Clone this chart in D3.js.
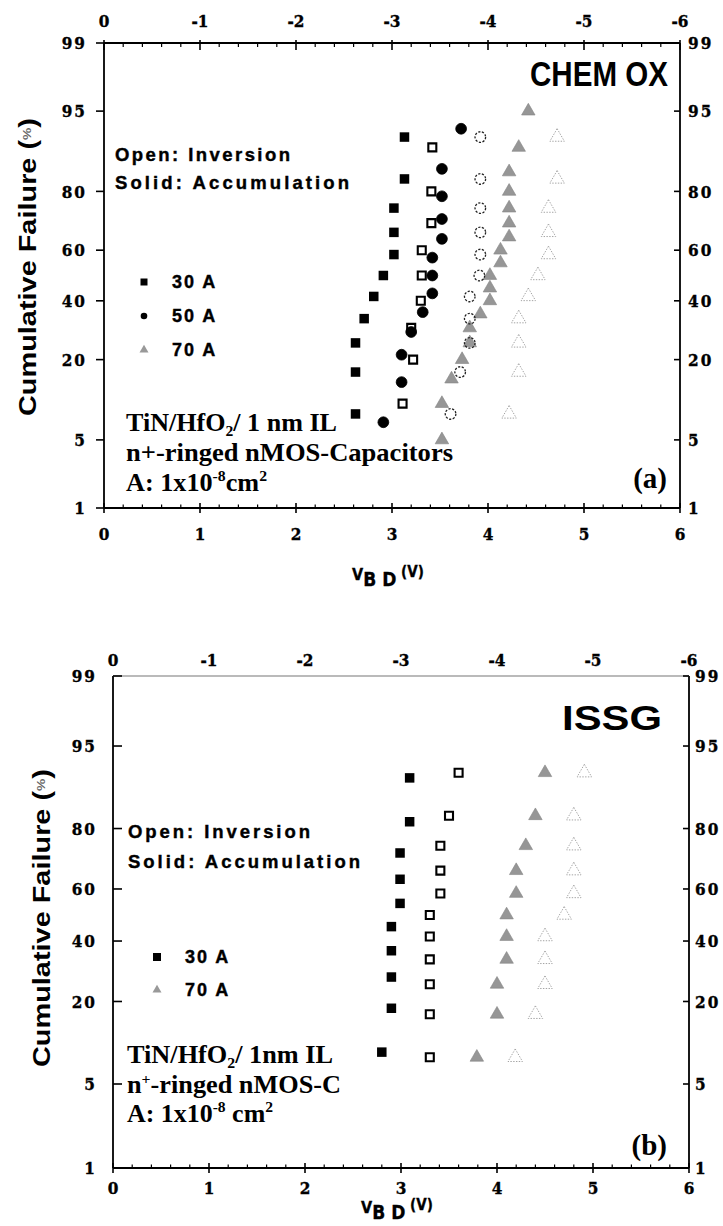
<!DOCTYPE html>
<html>
<head>
<meta charset="utf-8">
<script src="https://cdn.jsdelivr.net/npm/d3@7"></script>
<style>
  html, body { margin: 0; padding: 0; background: #fff; }
  svg { display: block; }
</style>
</head>
<body>
<svg id="fig" width="723" height="1226"></svg>
<script>
// ---- axis values ----
const voltTicks = [0, 1, 2, 3, 4, 5, 6];
const voltMinor = [0.2,0.4,0.6,0.8,1.2,1.4,1.6,1.8,2.2,2.4,2.6,2.8,3.2,3.4,3.6,3.8,4.2,4.4,4.6,4.8,5.2,5.4,5.6,5.8];
const gateVoltLabels = ["0", "-1", "-2", "-3", "-4", "-5", "-6"];
const failTicks = [1, 5, 20, 40, 60, 80, 95, 99];

// ---- CHEM OX breakdown data (V_BD in V, cumulative failure in %) ----
const chem30AccV = [2.62, 2.62, 2.62, 2.71, 2.81, 2.91, 3.02, 3.02, 3.02, 3.13, 3.13];
const chem30AccF = [8.3, 16.7, 25, 33.3, 41.7, 50, 58.3, 66.7, 75, 83.3, 91.7];
const chem30InvV = [3.11, 3.22, 3.20, 3.30, 3.31, 3.31, 3.41, 3.41, 3.42];
const chem30InvF = [10, 20, 30, 40, 50, 60, 70, 80, 90];
const chem50AccV = [2.91, 3.10, 3.10, 3.20, 3.32, 3.42, 3.42, 3.42, 3.52, 3.52, 3.52, 3.52, 3.72];
const chem50AccF = [7.1, 14.3, 21.4, 28.6, 35.7, 42.9, 50, 57.1, 64.3, 71.4, 78.6, 85.7, 92.9];
const chem50InvV = [3.61, 3.71, 3.81, 3.81, 3.81, 3.91, 3.92, 3.92, 3.92, 3.92, 3.92];
const chem50InvF = [8.3, 16.7, 25, 33.3, 41.7, 50, 58.3, 66.7, 75, 83.3, 91.7];
const chem70AccV = [3.52, 3.52, 3.62, 3.73, 3.81, 3.81, 3.92, 4.02, 4.02, 4.02, 4.13, 4.13, 4.22, 4.22, 4.22, 4.22, 4.22, 4.32, 4.42];
const chem70AccF = [5, 10, 15, 20, 25, 30, 35, 40, 45, 50, 55, 60, 65, 70, 75, 80, 85, 90, 95];
const chem70InvV = [4.22, 4.32, 4.32, 4.32, 4.42, 4.52, 4.63, 4.63, 4.63, 4.72, 4.72];
const chem70InvF = [8.3, 16.7, 25, 33.3, 41.7, 50, 58.3, 66.7, 75, 83.3, 91.7];

// ---- ISSG breakdown data ----
const issg30AccV = [2.80, 2.90, 2.90, 2.90, 2.90, 2.99, 2.99, 2.99, 3.09, 3.09];
const issg30AccF = [9.1, 18.2, 27.3, 36.4, 45.5, 54.5, 63.6, 72.7, 81.8, 90.9];
const issg30InvV = [3.30, 3.30, 3.30, 3.30, 3.30, 3.30, 3.41, 3.41, 3.41, 3.50, 3.60];
const issg30InvF = [8.3, 16.7, 25, 33.3, 41.7, 50, 58.3, 66.7, 75, 83.3, 91.7];
const issg70AccV = [3.79, 4.00, 4.00, 4.10, 4.10, 4.10, 4.20, 4.20, 4.30, 4.40, 4.50];
const issg70AccF = [8.3, 16.7, 25, 33.3, 41.7, 50, 58.3, 66.7, 75, 83.3, 91.7];
const issg70InvV = [4.19, 4.40, 4.50, 4.50, 4.50, 4.70, 4.80, 4.80, 4.80, 4.80, 4.91];
const issg70InvF = [8.3, 16.7, 25, 33.3, 41.7, 50, 58.3, 66.7, 75, 83.3, 91.7];

// inverse standard normal CDF (Acklam) for the probability axis
function probit(p) {
  const a = [-3.969683028665376e+01, 2.209460984245205e+02, -2.759285104469687e+02, 1.383577518672690e+02, -3.066479806614716e+01, 2.506628277459239e+00];
  const b = [-5.447609879822406e+01, 1.615858368580409e+02, -1.556989798598866e+02, 6.680131188771972e+01, -1.328068155288572e+01];
  const c = [-7.784894002430293e-03, -3.223964580411365e-01, -2.400758277161838e+00, -2.549732539343734e+00, 4.374664141464968e+00, 2.938163982698783e+00];
  const d = [7.784695709041462e-03, 3.224671290700398e-01, 2.445134137142996e+00, 3.754408661907416e+00];
  const pl = 0.02425, ph = 1 - pl;
  let q, r;
  if (p < pl) {
    q = Math.sqrt(-2 * Math.log(p));
    return (((((c[0]*q+c[1])*q+c[2])*q+c[3])*q+c[4])*q+c[5]) / ((((d[0]*q+d[1])*q+d[2])*q+d[3])*q+1);
  }
  if (p <= ph) {
    q = p - 0.5; r = q * q;
    return (((((a[0]*r+a[1])*r+a[2])*r+a[3])*r+a[4])*r+a[5])*q / (((((b[0]*r+b[1])*r+b[2])*r+b[3])*r+b[4])*r+1);
  }
  q = Math.sqrt(-2 * Math.log(1 - p));
  return -(((((c[0]*q+c[1])*q+c[2])*q+c[3])*q+c[4])*q+c[5]) / ((((d[0]*q+d[1])*q+d[2])*q+d[3])*q+1);
}

const zip = (xs, ys) => xs.map((v, i) => ({ v: v, f: ys[i] }));

const SANS = "'Liberation Sans', Arial, sans-serif";
const SERIF = "'Liberation Serif', 'Times New Roman', serif";
const NUM = "'DejaVu Serif Condensed', 'Liberation Serif', serif";
const COND = "'DejaVu Sans Condensed', 'Liberation Sans Narrow', 'Liberation Sans', sans-serif";

const svg = d3.select("#fig");

const sym = {
  square: s => d3.symbol().type(d3.symbolSquare).size(s * s)(),
  circle: r => d3.symbol().type(d3.symbolCircle).size(Math.PI * r * r)(),
  tri: s => d3.symbol().type(d3.symbolTriangle).size(Math.sqrt(3) / 4 * s * s)()
};

const styles = {
  solidSquare: { path: sym.square(9.5), fill: "#000", stroke: "none" },
  openSquare: { path: sym.square(8), fill: "none", stroke: "#000", sw: 2.1 },
  solidCircle: { path: sym.circle(5.4), fill: "#000", stroke: "#000", sw: 0.8 },
  openCircle: { path: sym.circle(5.3), fill: "none", stroke: "#222", sw: 1.3, dash: "2.2 1.5" },
  solidTri: { path: sym.tri(13.5), fill: "#969696", stroke: "#858585", sw: 0.6 },
  openTri: { path: sym.tri(14.5), fill: "none", stroke: "#a4a4a4", sw: 1, dash: "1.4 1.4" }
};

// numeric tick label helper
function numLabel(sel) {
  return sel.attr("font-family", NUM).attr("font-weight", "bold").attr("font-size", 17)
    .attr("stroke", "#000").attr("stroke-width", 0.35);
}

function drawPanel(cfg) {
  const g = svg.append("g");
  const x = d3.scaleLinear().domain([0, 6]).range([cfg.left, cfg.right]);
  // probability axis: linear in probit space between the anchor percentages
  const yLin = d3.scaleLinear().domain(cfg.probAnchors.map(p => probit(p / 100))).range(cfg.probRange);
  const y = pct => yLin(probit(pct / 100));
  const top = y(99), bottom = y(1);

  // frame
  g.append("line").attr("x1", cfg.left).attr("x2", cfg.right).attr("y1", bottom).attr("y2", bottom)
    .attr("stroke", "#000").attr("stroke-width", 1.8);
  g.append("line").attr("x1", cfg.left).attr("x2", cfg.left).attr("y1", top).attr("y2", bottom)
    .attr("stroke", "#000").attr("stroke-width", 1.8);
  g.append("line").attr("x1", cfg.right).attr("x2", cfg.right).attr("y1", top).attr("y2", bottom)
    .attr("stroke", "#000").attr("stroke-width", 1.8);
  g.append("line").attr("x1", cfg.left).attr("x2", cfg.right).attr("y1", top).attr("y2", top)
    .attr("stroke", cfg.topColor).attr("stroke-width", cfg.topWidth);

  // bottom axis ticks
  g.append("g").selectAll("line").data(voltTicks).join("line")
    .attr("x1", d => x(d)).attr("x2", d => x(d))
    .attr("y1", bottom - 5).attr("y2", bottom + 5)
    .attr("stroke", "#000").attr("stroke-width", 1.6);
  g.append("g").selectAll("line").data(voltMinor).join("line")
    .attr("x1", d => x(d)).attr("x2", d => x(d))
    .attr("y1", bottom - 3.5).attr("y2", bottom)
    .attr("stroke", "#000").attr("stroke-width", 1.2);
  numLabel(g.append("g").selectAll("text").data(voltTicks).join("text")
    .attr("x", d => x(d)).attr("y", cfg.bottomLabelY).attr("text-anchor", "middle"))
    .text(d => d);

  // top axis (gate-voltage labels)
  if (cfg.topTicks) {
    g.append("g").selectAll("line").data(voltTicks).join("line")
      .attr("x1", d => x(d)).attr("x2", d => x(d))
      .attr("y1", top - 3).attr("y2", top + 7)
      .attr("stroke", "#000").attr("stroke-width", 1.6);
    g.append("g").selectAll("line").data(voltMinor).join("line")
      .attr("x1", d => x(d)).attr("x2", d => x(d))
      .attr("y1", top).attr("y2", top + 4)
      .attr("stroke", "#000").attr("stroke-width", 1.2);
  }
  numLabel(g.append("g").selectAll("text").data(voltTicks).join("text")
    .attr("x", d => x(d)).attr("y", cfg.topLabelY).attr("text-anchor", "middle"))
    .text((d, i) => gateVoltLabels[i]);

  // left / right probability axes
  g.append("g").selectAll("line").data(failTicks).join("line")
    .attr("x1", cfg.left).attr("x2", cfg.left + cfg.leftTick)
    .attr("y1", d => y(d)).attr("y2", d => y(d))
    .attr("stroke", "#000").attr("stroke-width", 1.6);
  g.append("g").selectAll("line").data(failTicks).join("line")
    .attr("x1", cfg.right).attr("x2", cfg.right - 6)
    .attr("y1", d => y(d)).attr("y2", d => y(d))
    .attr("stroke", "#000").attr("stroke-width", 1.6);
  numLabel(g.append("g").selectAll("text").data(failTicks).join("text")
    .attr("x", cfg.leftLabelX).attr("y", d => y(d)).attr("dy", "0.36em")
    .attr("text-anchor", "end").attr("letter-spacing", 2))
    .text(d => d);
  numLabel(g.append("g").selectAll("text").data(failTicks).join("text")
    .attr("x", cfg.rightLabelX).attr("y", d => y(d)).attr("dy", "0.36em")
    .attr("text-anchor", "start").attr("letter-spacing", 2))
    .text(d => d);

  // axis titles
  const xt = g.append("text").attr("x", (cfg.left + cfg.right) / 2 - 4).attr("y", cfg.xTitleY)
    .attr("text-anchor", "middle").attr("font-family", COND).attr("font-weight", "bold")
    .attr("stroke", "#000").attr("stroke-width", 0.3);
  xt.append("tspan").attr("font-size", 16).text("V");
  xt.append("tspan").attr("font-size", 19).attr("dy", 6).text("B D");
  xt.append("tspan").attr("font-size", 15).attr("dy", -9).text(" (V)");

  const yt = g.append("text")
    .attr("transform", `translate(${cfg.yTitleX},${cfg.yTitleY}) rotate(-90)`)
    .attr("text-anchor", "middle").attr("font-family", SANS).attr("font-weight", "bold")
    .attr("font-size", 23).attr("textLength", cfg.yTitleLen).attr("lengthAdjust", "spacingAndGlyphs");
  yt.append("tspan").text("Cumulative Failure (");
  yt.append("tspan").attr("font-size", 11).attr("dy", -5).attr("fill", "#666").text("%");
  yt.append("tspan").attr("dy", 5).text(")");

  // series
  cfg.series.forEach(s => {
    const st = styles[s.style];
    g.append("g").selectAll("path").data(s.data).join("path")
      .attr("transform", d => `translate(${x(d.v)},${y(d.f)})`)
      .attr("d", st.path)
      .attr("fill", st.fill).attr("stroke", st.stroke)
      .attr("stroke-width", st.sw || 0)
      .attr("stroke-dasharray", st.dash || null);
  });

  // title
  g.append("text").attr("x", cfg.titleX).attr("y", cfg.titleY).attr("text-anchor", "end")
    .attr("font-family", SANS).attr("font-weight", "bold").attr("font-size", 35)
    .attr("textLength", cfg.titleLen).attr("lengthAdjust", "spacingAndGlyphs")
    .text(cfg.title);

  // notes
  ["Open: Inversion", "Solid: Accumulation"].forEach((t, i) => {
    g.append("text").attr("x", cfg.noteX).attr("y", cfg.noteY[i])
      .attr("font-family", SANS).attr("font-weight", "bold").attr("font-size", 18.5)
      .attr("stroke", "#000").attr("stroke-width", 0.4)
      .attr("textLength", cfg.noteLen[i]).attr("lengthAdjust", "spacing").text(t);
  });

  // legend
  cfg.legend.forEach((l, i) => {
    const ly = cfg.legendY + i * cfg.legendStep;
    const st = l.style;
    g.append("path").attr("transform", `translate(${cfg.legendX},${ly})`)
      .attr("d", st.path).attr("fill", st.fill).attr("stroke", st.stroke || "none")
      .attr("stroke-width", st.sw || 0);
    g.append("text").attr("x", cfg.legendX + 28).attr("y", ly + 6)
      .attr("font-family", SANS).attr("font-weight", "bold").attr("font-size", 18)
      .attr("stroke", "#000").attr("stroke-width", 0.4)
      .attr("letter-spacing", 2).text(l.label);
  });

  // device description
  const dx = cfg.devX;
  const FS = 25, SUB = 15;
  const devText = i => g.append("text").attr("x", dx).attr("y", cfg.devY[i])
    .attr("font-family", SERIF).attr("font-weight", "bold").attr("font-size", FS)
    .attr("textLength", cfg.devLen[i]).attr("lengthAdjust", "spacingAndGlyphs");
  const t1 = devText(0);
  t1.append("tspan").text("TiN/HfO");
  t1.append("tspan").attr("font-size", SUB).attr("dy", 5).text("2");
  t1.append("tspan").attr("dy", -5).text(cfg.devLine1);
  const t2 = devText(1);
  if (cfg.supPlus) {
    t2.append("tspan").text("n");
    t2.append("tspan").attr("font-size", SUB).attr("dy", -9).text("+");
    t2.append("tspan").attr("dy", 9).text(cfg.devLine2);
  } else {
    t2.append("tspan").text(cfg.devLine2);
  }
  const t3 = devText(2);
  t3.append("tspan").text("A: 1x10");
  t3.append("tspan").attr("font-size", SUB).attr("dy", -10).text("-8");
  t3.append("tspan").attr("dy", 10).text(cfg.areaGap + "cm");
  t3.append("tspan").attr("font-size", SUB).attr("dy", -10).text("2");

  g.append("text").attr("x", cfg.tagX).attr("y", cfg.tagY).attr("text-anchor", "end")
    .attr("font-family", SERIF).attr("font-weight", "bold").attr("font-size", 29).text(cfg.tag);
}

drawPanel({
  left: 104, right: 680, probAnchors: [1, 99], probRange: [508, 43],
  topTicks: true, topColor: "#000", topWidth: 1.8,
  topLabelY: 27, bottomLabelY: 540, leftTick: -8, leftLabelX: 87, rightLabelX: 688,
  xTitleY: 580, yTitleX: 36, yTitleY: 267, yTitleLen: 298,
  title: "CHEM OX", titleX: 668, titleY: 86, titleLen: 138,
  noteX: 115, noteY: [161, 189], noteLen: [175, 234],
  legendX: 144, legendY: 282, legendStep: 34,
  legend: [
    { label: "30 A", style: { path: sym.square(7), fill: "#000" } },
    { label: "50 A", style: { path: sym.circle(3.3), fill: "#000" } },
    { label: "70 A", style: { path: sym.tri(9), fill: "#999" } }
  ],
  devX: 126, devY: [431, 461, 491], devLen: [211, 327, 141],
  devLine1: "/ 1 nm IL", devLine2: "n+-ringed nMOS-Capacitors",
  supPlus: false, areaGap: "", tag: "(a)", tagX: 667, tagY: 488,
  series: [
    { style: "openTri", data: zip(chem70InvV, chem70InvF) },
    { style: "solidTri", data: zip(chem70AccV, chem70AccF) },
    { style: "openCircle", data: zip(chem50InvV, chem50InvF) },
    { style: "solidCircle", data: zip(chem50AccV, chem50AccF) },
    { style: "openSquare", data: zip(chem30InvV, chem30InvF) },
    { style: "solidSquare", data: zip(chem30AccV, chem30AccF) }
  ]
});

drawPanel({
  left: 113, right: 689, probAnchors: [1, 5, 99], probRange: [1168, 1084, 676],
  topTicks: false, topColor: "#777", topWidth: 1.2,
  topLabelY: 666, bottomLabelY: 1194, leftTick: 9, leftLabelX: 97, rightLabelX: 695,
  xTitleY: 1213, yTitleX: 50, yTitleY: 918, yTitleLen: 298,
  title: "ISSG", titleX: 662, titleY: 730, titleLen: 100,
  noteX: 128, noteY: [838, 868], noteLen: [182, 232],
  legendX: 157, legendY: 957, legendStep: 33,
  legend: [
    { label: "30 A", style: { path: sym.square(8), fill: "#000" } },
    { label: "70 A", style: { path: sym.tri(9), fill: "#999" } }
  ],
  devX: 127, devY: [1063, 1093, 1122], devLen: [206, 214, 146],
  devLine1: "/ 1nm IL", devLine2: "-ringed nMOS-C",
  supPlus: true, areaGap: " ", tag: "(b)", tagX: 667, tagY: 1155,
  series: [
    { style: "openTri", data: zip(issg70InvV, issg70InvF) },
    { style: "solidTri", data: zip(issg70AccV, issg70AccF) },
    { style: "openSquare", data: zip(issg30InvV, issg30InvF) },
    { style: "solidSquare", data: zip(issg30AccV, issg30AccF) }
  ]
});
</script>
</body>
</html>
